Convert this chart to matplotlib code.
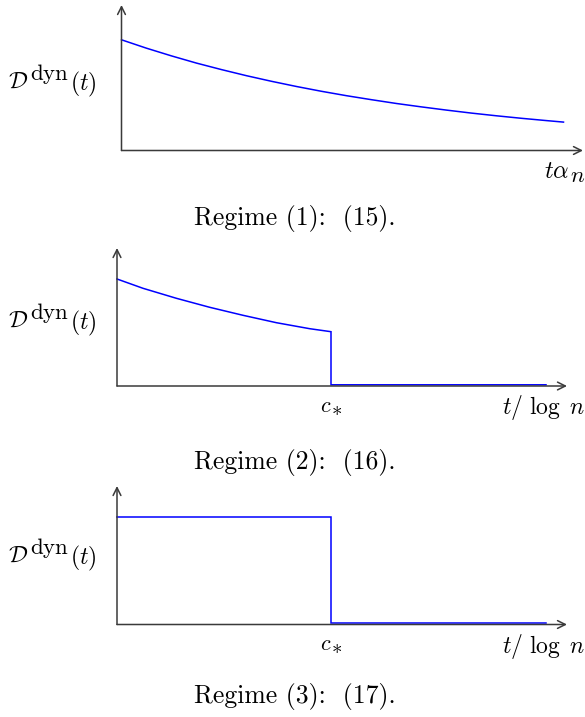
import numpy as np
import matplotlib
matplotlib.use('Agg')
import matplotlib.pyplot as plt

plt.rcParams['mathtext.fontset'] = 'cm'

# curve values (x in arbitrary time units, y = D^dyn)
t1 = [0.0, 0.25, 0.5, 0.75, 1.0, 1.25, 1.5, 1.75, 2.0, 2.25,
      2.5, 2.75, 3.0, 3.25, 3.5, 3.75, 4.0, 4.25, 4.42]
d1 = [1.107, 1.023, 0.946, 0.874, 0.809, 0.748, 0.692, 0.640, 0.592, 0.548,
      0.508, 0.470, 0.436, 0.404, 0.374, 0.347, 0.322, 0.299, 0.284]

t2 = [0.0, 0.26, 0.594, 0.927, 1.26, 1.594, 1.927, 2.14, 2.14, 4.29]
d2 = [1.07, 0.977, 0.877, 0.787, 0.707, 0.633, 0.573, 0.543, 0.012, 0.012]

t3 = [0.0, 2.14, 2.14, 4.29]
d3 = [1.078, 1.078, 0.012, 0.012]

c_star = 2.14

captions = ['Regime (1):  (15).', 'Regime (2):  (16).', 'Regime (3):  (17).']

W, H = 585, 717
fig = plt.figure(figsize=(W / 100, H / 100), dpi=100)
renderer = fig.canvas.get_renderer()

axis_col = '#3a3a3a'


def pieces(x, y, parts, align='left'):
    # lay out text pieces side by side, y is baseline in pixels from top
    texts = []
    cx = x
    for s, size, dy, gap in parts:
        t = fig.text(cx / W, 1 - (y - dy) / H, s, fontsize=size, va='baseline', ha='left')
        bb = t.get_window_extent(renderer)
        cx += bb.width + gap
        texts.append(t)
    if align != 'left':
        shift = (cx - x) if align == 'right' else (cx - x) / 2
        for t in texts:
            px, py = t.get_position()
            t.set_position((px - shift / W, py))


def panel(left, bottom, right, top, xs, ys, xlabel, caption, cap_y, lab_y, xl_y, cstar=None):
    ax = fig.add_axes([left / W, 1 - bottom / H, (right - left) / W, (bottom - top) / H])
    ax.set_xlim(0, (right - left) / 100)
    ax.set_ylim(0, (bottom - top) / 100)
    ax.axis('off')
    arr = dict(arrowstyle='->', lw=1.1, color=axis_col, mutation_scale=14,
               shrinkA=0, shrinkB=0)
    ax.annotate('', xy=(1, 0), xytext=(0, 0), xycoords='axes fraction', arrowprops=arr)
    ax.annotate('', xy=(0, 1), xytext=(0, 0), xycoords='axes fraction', arrowprops=arr)
    ax.plot(xs, ys, color='#0000ff', lw=1.1, solid_joinstyle='miter', clip_on=False)
    # y label D^dyn(t)
    pieces(8, lab_y, [(r'$\mathcal{D}$', 17, 0, 1.5), (r'$\mathrm{dyn}$', 16.5, 8, 1.5),
                      (r'$(t)$', 17, -2, 0)])
    pieces(585, xl_y, xlabel, align='right')
    if cstar is not None:
        cx = left + cstar * 100
        pieces(cx, bottom + 26, [(r'$c$', 16, 0, 0), (r'$*$', 15, -3, 0)], align='center')
    fig.text(295 / W, 1 - cap_y / H, caption, ha='center', va='center',
             fontsize=18.5, family='cmr10')
    return ax


panel(121.5, 150.5, 583, 5, t1, d1, [(r'$t\alpha$', 17.5, 0, 0), (r'$n$', 16.5, -4, 0)],
      captions[0], 218, 88, 178)
panel(117, 386, 567, 248, t2, d2, [(r'$t/\ \log\ n$', 17, 0, 0)],
      captions[1], 463, 327, 414, c_star)
panel(117, 624.5, 567, 486, t3, d3, [(r'$t/\ \log\ n$', 17, 0, 0)],
      captions[2], 697, 562, 653, c_star)

fig.savefig('out.png', dpi=100)
